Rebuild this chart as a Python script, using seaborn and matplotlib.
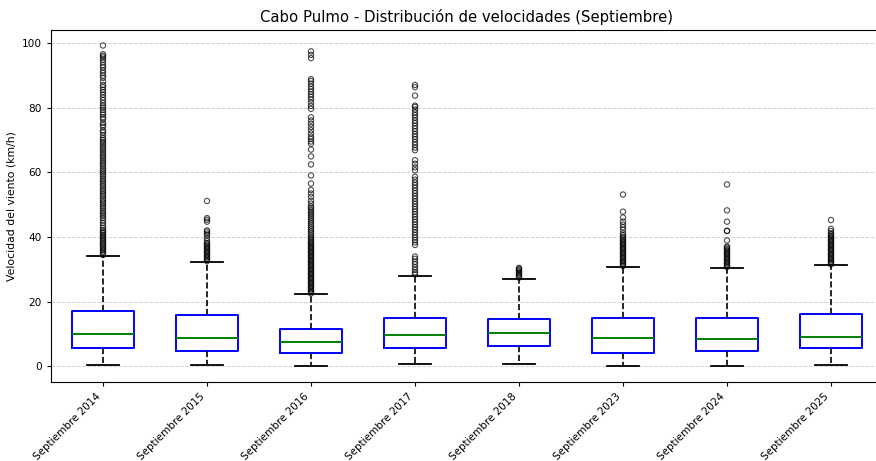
import matplotlib
matplotlib.use("Agg")
import matplotlib.pyplot as plt
import seaborn as sns
import pandas as pd

# Boxplot summary (km/h)
labels = ["Septiembre 2014", "Septiembre 2015", "Septiembre 2016", "Septiembre 2017",
          "Septiembre 2018", "Septiembre 2023", "Septiembre 2024", "Septiembre 2025"]
whisker_low = [0.4, 0.4, 0.1, 0.6, 0.6, 0.0, 0.0, 0.4]
q1 = [5.7, 4.8, 4.2, 5.7, 6.3, 4.2, 4.6, 5.5]
medians = [10.1, 8.8, 7.5, 9.5, 10.2, 8.8, 8.5, 9.1]
q3 = [17.2, 15.8, 11.4, 14.8, 14.5, 14.9, 14.9, 16.0]
whisker_high = [34.2, 32.2, 22.2, 28.0, 27.1, 30.7, 30.4, 31.2]

# Outliers (approximate)
fliers_2014 = [34.4, 34.9, 35.3, 35.8, 36.2, 36.7, 37.1, 37.6, 38.0, 38.5, 38.9, 39.4,
               39.8, 40.3, 40.7, 41.2, 41.6, 42.1, 42.8, 43.5, 44.3, 45.1, 45.8, 46.4,
               47.0, 47.6, 48.2, 48.9, 49.5, 50.1, 50.7, 51.3, 51.9, 52.6, 53.2, 53.8,
               54.4, 55.0, 55.7, 56.3, 56.9, 57.5, 58.1, 58.8, 59.4, 60.0, 60.6, 61.2,
               61.9, 62.5, 63.1, 63.7, 64.4, 65.0, 65.6, 66.2, 66.9, 67.5, 68.1, 68.8,
               69.4, 70.0, 70.6, 71.5, 72.3, 72.9, 74.0, 74.6, 75.3, 76.4, 77.0, 77.8,
               78.5, 79.3, 80.0, 80.6, 81.4, 82.3, 83.1, 84.0, 84.8, 85.5, 86.3, 87.0,
               88.1, 89.2, 89.9, 90.7, 91.5, 92.4, 93.1, 94.0, 94.8, 95.5, 96.0, 96.5,
               99.2]
fliers_2015 = [32.5, 32.9, 33.3, 33.7, 34.1, 34.5, 34.9, 35.3, 35.7, 36.1, 36.5, 36.9,
               37.3, 37.7, 38.1, 38.7, 39.6, 40.5, 41.0, 41.6, 42.0, 44.7, 45.3, 45.8,
               51.1]
fliers_2016 = [22.5, 22.9, 23.3, 23.7, 24.1, 24.5, 24.9, 25.3, 25.7, 26.1, 26.5, 26.9,
               27.3, 27.7, 28.1, 28.5, 28.9, 29.3, 29.7, 30.1, 30.5, 30.9, 31.3, 31.7,
               32.1, 32.5, 32.9, 33.3, 33.7, 34.1, 34.5, 34.9, 35.3, 35.7, 36.1, 36.5,
               36.9, 37.3, 37.7, 38.1, 38.5, 38.9, 39.4, 39.9, 40.5, 41.1, 41.7, 42.3,
               42.9, 43.5, 44.1, 44.7, 45.3, 45.9, 46.5, 47.1, 47.7, 48.3, 48.9, 49.4,
               50.3, 51.2, 52.4, 53.4, 54.5, 56.5, 59.0, 62.4, 64.9, 67.0, 68.8, 69.5,
               70.3, 71.0, 72.0, 73.0, 74.0, 75.0, 76.0, 77.0, 79.6, 80.5, 81.5, 82.5,
               83.3, 84.1, 84.9, 85.7, 86.5, 87.4, 88.2, 88.8, 95.3, 96.3, 97.4]
fliers_2017 = [28.4, 29.0, 29.8, 30.6, 31.5, 32.3, 33.2, 33.9, 37.5, 38.3, 39.0, 39.8,
               40.6, 41.4, 42.2, 43.0, 43.8, 44.6, 45.4, 46.2, 47.0, 47.8, 48.6, 49.4,
               50.2, 51.0, 51.8, 52.6, 53.5, 54.3, 55.2, 56.0, 56.8, 57.7, 58.6, 60.6,
               61.5, 62.6, 63.7, 66.8, 67.6, 68.5, 69.3, 70.2, 71.0, 71.8, 72.7, 73.5,
               74.3, 75.2, 76.0, 76.9, 77.7, 78.5, 79.4, 80.2, 80.6, 83.7, 86.3, 87.0]
fliers_2018 = [27.4, 27.8, 28.2, 28.6, 29.0, 29.4, 29.8, 30.1, 30.4]
fliers_2023 = [31.0, 31.4, 31.8, 32.2, 32.6, 33.0, 33.4, 33.8, 34.2, 34.6, 35.0, 35.4,
               35.8, 36.2, 36.6, 37.0, 37.4, 37.8, 38.2, 38.6, 39.0, 39.5, 40.0, 40.5,
               41.1, 42.2, 43.0, 43.8, 44.7, 46.0, 47.8, 53.1]
fliers_2024 = [30.7, 31.1, 31.5, 31.9, 32.3, 32.7, 33.1, 33.5, 33.9, 34.3, 34.7, 35.1,
               35.5, 35.9, 36.3, 36.7, 37.0, 38.9, 41.8, 41.9, 44.7, 48.2, 56.2]
fliers_2025 = [31.5, 31.9, 32.3, 32.7, 33.1, 33.5, 33.9, 34.3, 34.7, 35.1, 35.5, 35.9,
               36.3, 36.7, 37.1, 37.5, 37.9, 38.3, 38.7, 39.1, 39.5, 39.9, 40.3, 40.7,
               41.1, 41.8, 42.5, 45.2]
fliers = [fliers_2014, fliers_2015, fliers_2016, fliers_2017,
          fliers_2018, fliers_2023, fliers_2024, fliers_2025]

# Five-number points per month -> box; outliers drawn separately
box_rows = []
for i, lab in enumerate(labels):
    for v in (whisker_low[i], q1[i], medians[i], q3[i], whisker_high[i]):
        box_rows.append({"periodo": lab, "velocidad": v})
box_df = pd.DataFrame(box_rows)

flier_rows = []
for lab, vals in zip(labels, fliers):
    for v in vals:
        flier_rows.append({"periodo": lab, "velocidad": v})
flier_df = pd.DataFrame(flier_rows)

fig = plt.figure(figsize=(8.76, 4.61), dpi=100)
ax = fig.add_axes([51 / 876, 79 / 461, 832 / 876, 352 / 461])

sns.boxplot(data=box_df, x="periodo", y="velocidad", order=labels, ax=ax,
            whis=(0, 100), width=0.6, showfliers=False, fill=False,
            color="blue", linewidth=1.4,
            boxprops={"color": "blue", "linewidth": 1.4},
            medianprops={"color": "green", "linewidth": 1.4},
            whiskerprops={"color": "black", "linestyle": "--", "linewidth": 1.2},
            capprops={"color": "black", "linewidth": 1.3})

sns.stripplot(data=flier_df, x="periodo", y="velocidad", order=labels, ax=ax,
              jitter=False, size=3.8, color="black")
for coll in ax.collections:
    coll.set_facecolor("none")
    coll.set_edgecolor((0, 0, 0, 0.7))
    coll.set_linewidth(0.8)

ax.set_xlim(-0.5, 7.5)
ax.set_ylim(-4.9, 104.0)
ax.yaxis.grid(True, linestyle="--", color="0.75", linewidth=0.7, alpha=0.7)
ax.set_axisbelow(True)

ax.set_title("Cabo Pulmo - Distribución de velocidades (Septiembre)", fontsize=10.7)
ax.set_xlabel("")
ax.set_ylabel("Velocidad del viento (km/h)", fontsize=7.8)
ax.set_xticks(range(len(labels)))
ax.set_xticklabels(labels, rotation=45, ha="right", fontsize=7.5)
ax.tick_params(axis="y", labelsize=7.6, length=3)
ax.tick_params(axis="x", length=3)

fig.savefig("out.png", dpi=100)
